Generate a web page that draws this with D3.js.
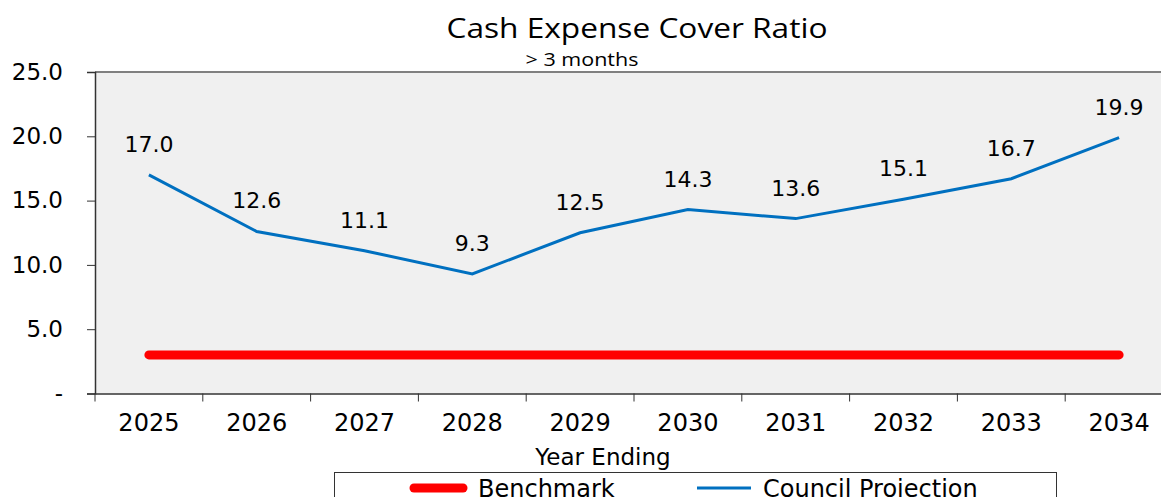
<!DOCTYPE html>
<html>
<head>
<meta charset="utf-8">
<script src="https://cdn.jsdelivr.net/npm/d3@7/dist/d3.min.js"></script>
<style>
  body { margin: 0; background: #fff; }
  svg { display: block; }
  text { fill: #000; }
</style>
</head>
<body>
<div id="chart"></div>
<script>
// data
const years = ["2025", "2026", "2027", "2028", "2029", "2030", "2031", "2032", "2033", "2034"];
const councilProjection = [17.0, 12.6, 11.1, 9.3, 12.5, 14.3, 13.6, 15.1, 16.7, 19.9];
const benchmark = [3, 3, 3, 3, 3, 3, 3, 3, 3, 3];
const yTicks = [0, 5, 10, 15, 20, 25];

const width = 1161, height = 497;
const margin = {top: 72, left: 95, bottom: 104};
const plotRight = 1173;
const font = "'DejaVu Sans', sans-serif";

const svg = d3.select("#chart").append("svg")
  .attr("width", width)
  .attr("height", height);

const x = d3.scaleBand().domain(years).range([margin.left, plotRight]);
const y = d3.scaleLinear().domain([0, 25]).range([height - margin.bottom + 0.5, margin.top]);

// plot background
svg.append("rect")
  .attr("x", margin.left).attr("y", margin.top)
  .attr("width", plotRight - margin.left)
  .attr("height", y(0) - margin.top)
  .attr("fill", "#f0f0f0");

// top border
svg.append("line")
  .attr("x1", margin.left).attr("x2", plotRight)
  .attr("y1", margin.top).attr("y2", margin.top)
  .attr("stroke", "#808080").attr("stroke-width", 2);

// y axis
const yAxis = svg.append("g")
  .attr("transform", `translate(${margin.left},0)`)
  .call(d3.axisLeft(y).tickValues(yTicks).tickSize(8).tickPadding(24)
    .tickFormat(d => d === 0 ? "-" : d3.format(".1f")(d)));
yAxis.select(".domain").attr("stroke", "#333").attr("stroke-width", 1.5);
yAxis.selectAll(".tick line").attr("stroke", "#333");
yAxis.selectAll("text")
  .style("font-family", font)
  .style("font-size", "23px");

// x axis
const xAxis = svg.append("g")
  .attr("transform", `translate(0,${y(0)})`)
  .call(d3.axisBottom(x).tickSize(0).tickPadding(20));
xAxis.select(".domain").attr("stroke", "#333").attr("stroke-width", 1.5);
xAxis.selectAll("text")
  .style("font-family", font)
  .style("font-size", "24px");
// tick marks between categories
xAxis.selectAll(".sep")
  .data(years)
  .join("line")
  .attr("class", "sep")
  .attr("x1", d => x(d)).attr("x2", d => x(d))
  .attr("y1", 0).attr("y2", 8)
  .attr("stroke", "#333");

const cx = d => x(d) + x.bandwidth() / 2;

// benchmark line
svg.append("path")
  .datum(benchmark)
  .attr("fill", "none")
  .attr("stroke", "#ff0000")
  .attr("stroke-width", 9)
  .attr("stroke-linecap", "round")
  .attr("d", d3.line().x((d, i) => cx(years[i])).y(d => y(d)));

// council projection line
svg.append("path")
  .datum(councilProjection)
  .attr("fill", "none")
  .attr("stroke", "#0070c0")
  .attr("stroke-width", 3)
  .attr("d", d3.line().x((d, i) => cx(years[i])).y(d => y(d)));

// data labels
svg.selectAll(".lbl")
  .data(councilProjection)
  .join("text")
  .attr("class", "lbl")
  .attr("x", (d, i) => cx(years[i]))
  .attr("y", d => y(d) - 23)
  .attr("text-anchor", "middle")
  .style("font-family", font)
  .style("font-size", "22px")
  .text(d => d3.format(".1f")(d));

// titles
svg.append("text")
  .attr("x", 637).attr("y", 38)
  .attr("text-anchor", "middle")
  .attr("textLength", 381)
  .attr("lengthAdjust", "spacingAndGlyphs")
  .style("font-family", "'Open Sans', sans-serif")
  .style("font-size", "27px")
  .text("Cash Expense Cover Ratio");

svg.append("text")
  .attr("x", 582).attr("y", 66)
  .attr("text-anchor", "middle")
  .attr("textLength", 113)
  .attr("lengthAdjust", "spacingAndGlyphs")
  .style("font-family", "'Open Sans', sans-serif")
  .style("font-size", "18px")
  .text("> 3 months");

svg.append("text")
  .attr("x", 603).attr("y", 465)
  .attr("text-anchor", "middle")
  .style("font-family", font)
  .style("font-size", "23px")
  .text("Year Ending");

// legend
const legend = svg.append("g");
legend.append("rect")
  .attr("x", 334.5).attr("y", 472.5)
  .attr("width", 722).attr("height", 40)
  .attr("fill", "#fff").attr("stroke", "#333");

const legendItems = [
  {name: "Benchmark", color: "#ff0000", w: 9, x0: 414, len: 49},
  {name: "Council Projection", color: "#0070c0", w: 3, x0: 697, len: 54}
];
const li = legend.selectAll(".li").data(legendItems).join("g").attr("class", "li");
li.append("line")
  .attr("x1", d => d.x0).attr("x2", d => d.x0 + d.len)
  .attr("y1", 488).attr("y2", 488)
  .attr("stroke", d => d.color)
  .attr("stroke-width", d => d.w)
  .attr("stroke-linecap", d => d.w > 5 ? "round" : "butt");
li.append("text")
  .attr("x", d => d.x0 + d.len + (d.w > 5 ? 15 : 12)).attr("y", 497)
  .style("font-family", font)
  .style("font-size", "24px")
  .text(d => d.name);
</script>
</body>
</html>
